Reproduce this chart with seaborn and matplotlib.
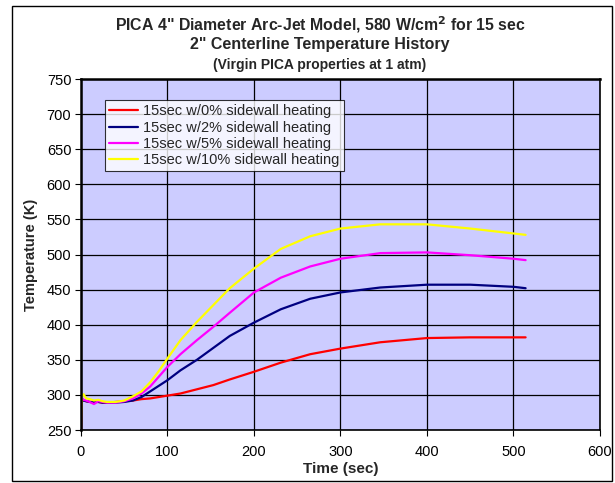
import pandas as pd
import matplotlib.pyplot as plt
import seaborn as sns
from matplotlib.patches import Rectangle

# ---------------------------------------------------------
# Data
# ---------------------------------------------------------
time_sec = [0, 1, 3, 6, 10, 15, 20, 25, 30, 40, 50, 60, 70, 80, 90, 100,
            115, 134, 153, 172, 200, 231, 265, 300, 346, 400, 450, 500, 514]

temp_0pct = [250, 294, 292, 291, 290, 290, 290, 289, 289, 290, 291, 292, 294, 295, 297, 299,
             302, 308, 314, 322, 333, 346, 358, 366, 375, 381, 382, 382, 382]
temp_2pct = [250, 294, 292, 291, 290, 290, 290, 289, 289, 289, 290, 292, 297, 305, 313, 321,
             335, 350, 367, 384, 403, 422, 437, 446, 453, 457, 457, 454, 452]
temp_5pct = [250, 296, 293, 292, 290, 287, 291, 290, 289, 289, 291, 295, 302, 312, 326, 340,
             358, 378, 397, 417, 446, 467, 483, 494, 502, 503, 499, 494, 492]
temp_10pct = [250, 298, 301, 295, 294, 292, 293, 291, 290, 290, 292, 298, 305, 318, 334, 352,
              378, 404, 428, 452, 480, 508, 526, 537, 543, 543, 537, 530, 528]

series_names = ["15sec w/0% sidewall heating", "15sec w/2% sidewall heating",
                "15sec w/5% sidewall heating", "15sec w/10% sidewall heating"]
series_colors = ["#FF0000", "#000080", "#FF00FF", "#FFFF00"]

x_ticks = [0, 100, 200, 300, 400, 500, 600]
y_ticks = [250, 300, 350, 400, 450, 500, 550, 600, 650, 700, 750]

frames = []
for name, vals in zip(series_names, [temp_0pct, temp_2pct, temp_5pct, temp_10pct]):
    frames.append(pd.DataFrame({"Time": time_sec, "Temp": vals, "Case": name}))
df = pd.concat(frames, ignore_index=True)

# ---------------------------------------------------------
# Plot
# ---------------------------------------------------------
sns.set_theme(style="ticks")
plt.rcParams["font.family"] = ["Liberation Sans", "DejaVu Sans"]

fig = plt.figure(figsize=(6.15, 4.83), dpi=100)
ax = fig.add_axes([0.1317, 0.1097, 0.8439, 0.7267])
ax.set_facecolor("#CCCCFF")

sns.lineplot(data=df, x="Time", y="Temp", hue="Case", palette=series_colors,
             hue_order=series_names, linewidth=1.6, sort=False, ax=ax)

ax.set_xlim(0, 600)
ax.set_ylim(250, 750)
ax.set_xticks(x_ticks)
ax.set_yticks(y_ticks)
ax.grid(True, color="black", linewidth=0.9)
ax.set_axisbelow(True)
for side in ["top", "right", "left", "bottom"]:
    ax.spines[side].set_color("black")
    ax.spines[side].set_linewidth(1.2)
ax.spines["left"].set_linewidth(1.8)
ax.spines["top"].set_linewidth(1.8)
ax.tick_params(axis="both", labelsize=10.5, direction="out", length=4, width=0.8,
               colors="black", pad=3)
ax.tick_params(axis="x", pad=7)

ax.set_xlabel("Time (sec)", fontsize=11, fontweight="bold", labelpad=2)
ax.set_ylabel("Temperature (K)", fontsize=10.5, fontweight="bold", labelpad=6)

leg = ax.legend(loc="upper left", bbox_to_anchor=(0.046, 0.94), fontsize=10.5,
                frameon=True, fancybox=False, handlelength=2.0, handletextpad=0.3,
                borderpad=0.3, labelspacing=0.15, borderaxespad=0)
leg.get_frame().set_edgecolor("black")
leg.get_frame().set_facecolor("white")
leg.get_frame().set_linewidth(0.8)

# Titles
cx = 320 / 615
fig.text(cx, 1 - 25 / 483, "PICA 4\" Diameter Arc-Jet Model, 580 W/cm$^\\mathbf{2}$ for 15 sec",
         ha="center", va="center", fontsize=11.4, fontweight="bold")
fig.text(cx, 1 - 45 / 483, "2\" Centerline Temperature History",
         ha="center", va="center", fontsize=11.5, fontweight="bold")
fig.text(cx, 1 - 65 / 483, "(Virgin PICA properties at 1 atm)",
         ha="center", va="center", fontsize=10, fontweight="bold")

# Outer chart border
fig.patches.append(Rectangle((12 / 615, 2 / 483), 600 / 615, 475 / 483,
                             transform=fig.transFigure, fill=False,
                             edgecolor="black", linewidth=1.0))

fig.savefig("out.png", dpi=100)
